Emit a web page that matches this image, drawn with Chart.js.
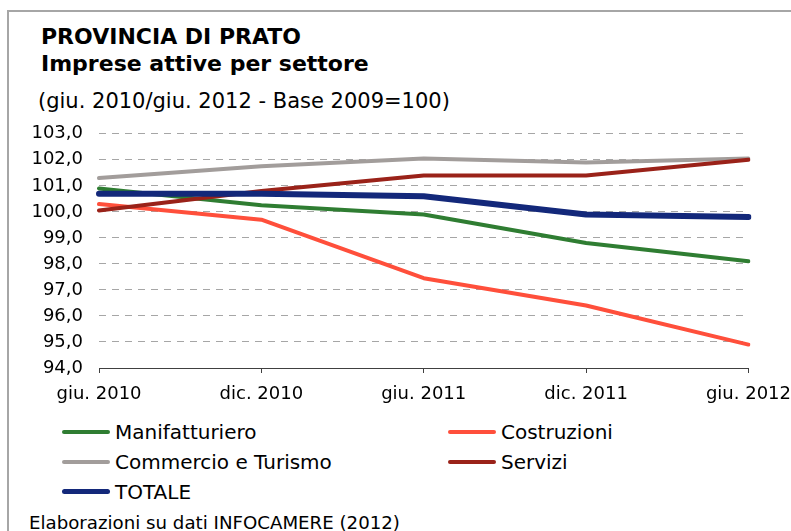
<!DOCTYPE html>
<html>
<head>
<meta charset="utf-8">
<script src="https://cdn.jsdelivr.net/npm/chart.js@4/dist/chart.umd.min.js"></script>
<style>
body{margin:0;background:#fff;}
#wrap{position:relative;width:791px;height:531px;overflow:hidden;font-family:"DejaVu Sans",sans-serif;color:#000;}
#frame{position:absolute;left:7px;top:10px;width:900px;height:600px;border-top:2px solid #a6a6a6;border-left:2px solid #a6a6a6;}
.t{position:absolute;white-space:nowrap;line-height:normal;}
#c{position:absolute;left:0;top:107px;}
.lg-line{position:absolute;border-radius:3px;}
</style>
</head>
<body>
<div id="wrap">
<div id="frame"></div>
<div class="t" style="left:41px;top:24px;font-size:22px;font-weight:bold;">PROVINCIA DI PRATO</div>
<div class="t" style="left:41px;top:51px;font-size:22px;font-weight:bold;">Imprese attive per settore</div>
<div class="t" style="left:38px;top:89px;font-size:21px;">(giu. 2010/giu. 2012 - Base 2009=100)</div>
<canvas id="c" width="802" height="304"></canvas>
<div id="legend"></div>
<div class="t" style="left:29px;top:512px;font-size:18.2px;">Elaborazioni su dati INFOCAMERE (2012)</div>
</div>

<script>
// ================= DATA =================
let periodi = ["giu. 2010","dic. 2010","giu. 2011","dic. 2011","giu. 2012"];

let manifatturiero = [100.9, 100.25, 99.9, 98.8, 98.1];
let costruzioni    = [100.3, 99.7, 97.45, 96.4, 94.9];
let commercio      = [101.3, 101.75, 102.05, 101.9, 102.05];
let servizi        = [100.05, 100.8, 101.4, 101.4, 102.0];
let totale         = [100.7, 100.7, 100.6, 99.9, 99.8];

let yMin = 94, yMax = 103, yStep = 1;

// ================= SERIES =================
let series = [
{label:"Manifatturiero", data:manifatturiero, color:"#2f7d32", w:4, order:4},
{label:"Costruzioni", data:costruzioni, color:"#ff4f3b", w:4, order:3},
{label:"Commercio e Turismo", data:commercio, color:"#a29d9b", w:4, order:2},
{label:"Servizi", data:servizi, color:"#9a2219", w:4, order:1},
{label:"TOTALE", data:totale, color:"#13287a", w:6, order:0}
];

let ctx = document.getElementById("c");

let chart = new Chart(ctx, {
type:"line",
data:{
labels:periodi,
datasets:series.map(s=>({
label:s.label,
data:s.data,
borderColor:s.color,
backgroundColor:s.color,
borderWidth:s.w,
borderCapStyle:"round",
borderJoinStyle:"round",
pointRadius:0,
tension:0,
order:s.order
}))
},
options:{
responsive:false,
animation:false,
layout:{padding:{top:3,right:0,bottom:0,left:0}},
plugins:{legend:{display:false},tooltip:{enabled:false}},
scales:{
x:{
offset:false,
grid:{display:true,drawOnChartArea:false,drawTicks:true,tickLength:5,color:"#404040"},
border:{display:true,color:"#404040",width:1},
ticks:{color:"#000",font:{family:"DejaVu Sans",size:18},padding:11,maxRotation:0,autoSkip:false},
afterFit:s=>{s.height=43;}
},
y:{
min:yMin,max:yMax,
grid:{drawTicks:false,color:c=>c.tick && c.tick.value===yMin?"rgba(0,0,0,0)":"#a6a6a6",lineWidth:1},
border:{display:false,dash:[7,6]},
ticks:{stepSize:yStep,color:"#000",font:{family:"DejaVu Sans",size:18},padding:16,
callback:v=>v.toFixed(1).replace(".",",")},
afterFit:s=>{s.width=99;}
}
}
}
});

// ================= LEGEND =================
let lgPos = [
{x:62,y:431.5},{x:448,y:431.5},
{x:62,y:461.5},{x:448,y:461.5},
{x:62,y:491.5}
];
let lgHTML = "";
series.forEach((s,i)=>{
let p = lgPos[i];
let h = s.w===6?5:4;
lgHTML += `<div class="lg-line" style="left:${p.x}px;top:${p.y-h/2}px;width:48px;height:${h}px;background:${s.color}"></div>`;
lgHTML += `<div class="t" style="left:${p.x+53}px;top:${p.y-11.5}px;font-size:20px;">${s.label}</div>`;
});
document.getElementById("legend").innerHTML = lgHTML;
</script>
</body>
</html>
